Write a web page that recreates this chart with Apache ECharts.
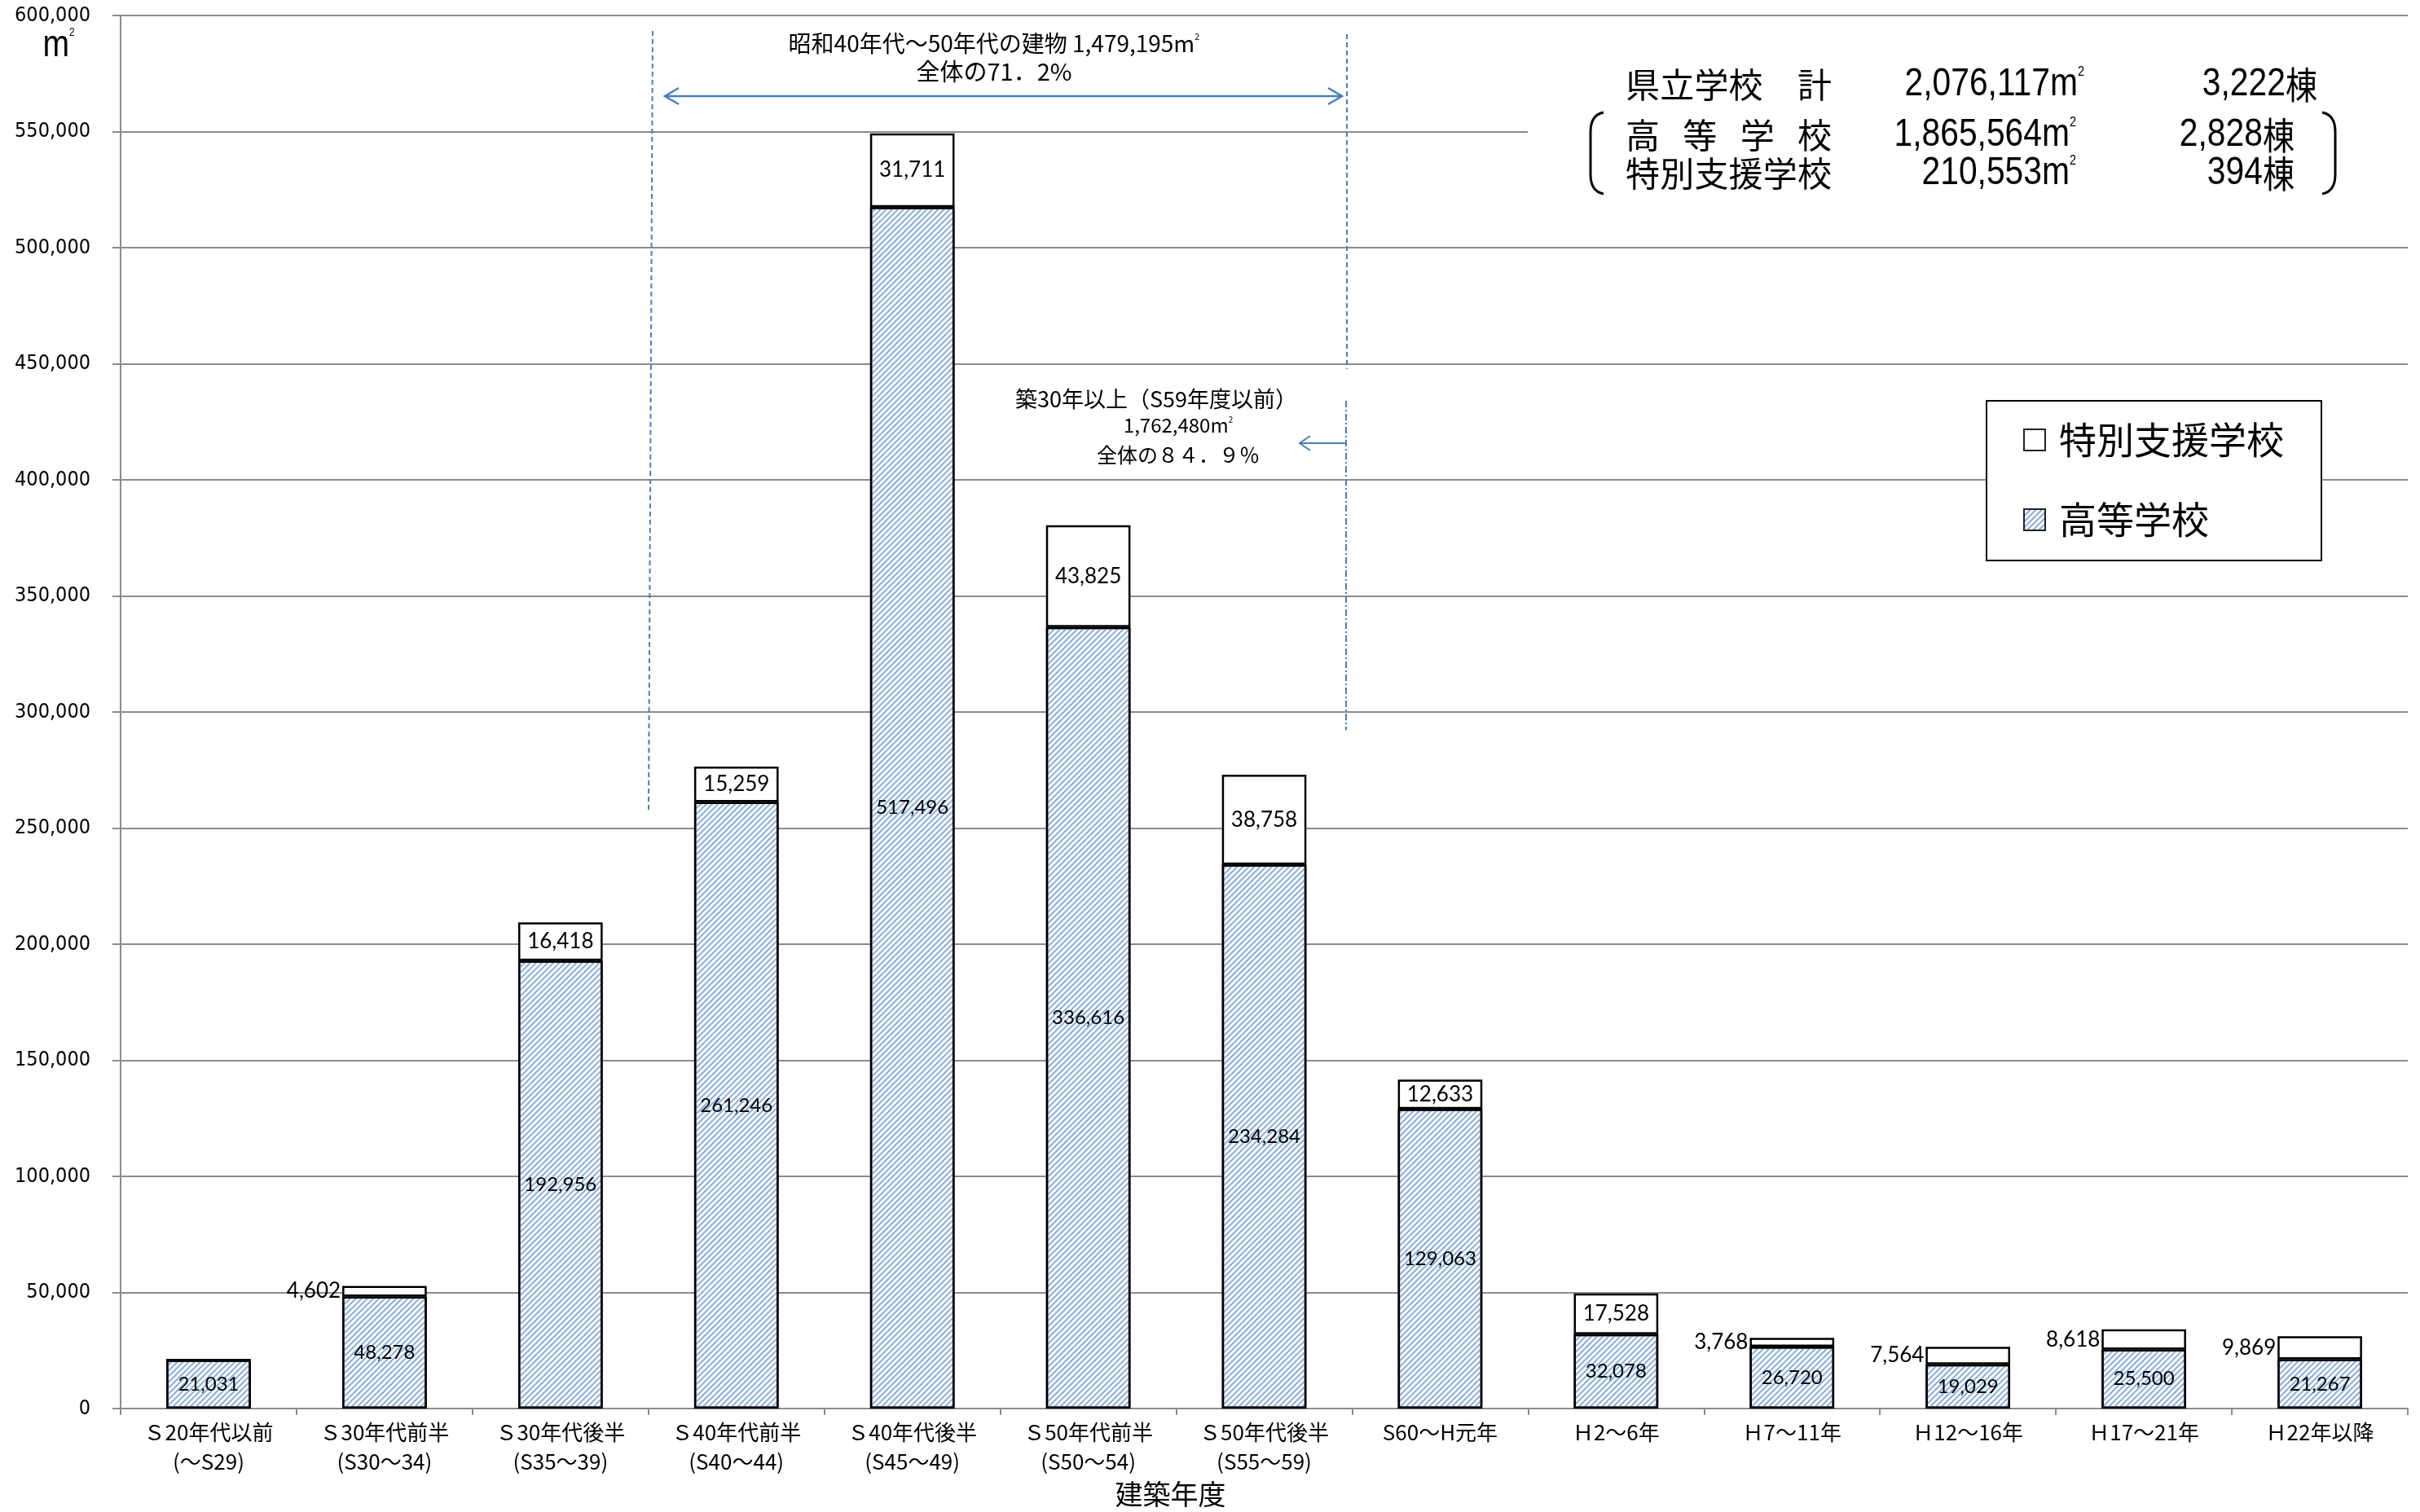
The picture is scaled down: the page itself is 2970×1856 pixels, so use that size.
<!DOCTYPE html>
<html>
<head>
<meta charset="utf-8">
<title>県立学校 建築年度別 延床面積</title>
<script src="https://cdn.jsdelivr.net/npm/echarts@6/dist/echarts.min.js"></script>
<style>
  html, body { margin: 0; padding: 0; background: #fff; }
  #chart { width: 2970px; height: 1856px; }
</style>
</head>
<body>
<div id="chart"></div>
<script>
// 建築年度の区分
const categories = [
  'Ｓ20年代以前\n(～S29)', 'Ｓ30年代前半\n(S30～34)', 'Ｓ30年代後半\n(S35～39)',
  'Ｓ40年代前半\n(S40～44)', 'Ｓ40年代後半\n(S45～49)', 'Ｓ50年代前半\n(S50～54)',
  'Ｓ50年代後半\n(S55～59)', 'S60～H元年', 'Ｈ2～6年', 'Ｈ7～11年',
  'Ｈ12～16年', 'Ｈ17～21年', 'Ｈ22年以降'
];
// 延床面積（㎡）
const highSchool = [21031, 48278, 192956, 261246, 517496, 336616, 234284, 129063, 32078, 26720, 19029, 25500, 21267];
const specialSupport = [0, 4602, 16418, 15259, 31711, 43825, 38758, 12633, 17528, 3768, 7564, 8618, 9869];
const seriesNames = ['高等学校', '特別支援学校'];
// 縦軸の目盛
const yMin = 0, yMax = 600000, yInterval = 50000;
// 集計表
const summaryNames = ['県立学校　計', '高等学校', '特別支援学校'];
const summaryArea = ['2,076,117', '1,865,564', '210,553'];
const summaryCount = ['3,222棟', '2,828棟', '394棟'];
// 注記
const noteTop = ['昭和40年代～50年代の建物 1,479,195', '全体の71．2%'];
const noteAge = ['築30年以上（S59年度以前）', '1,762,480', '全体の８４．９％'];

const fmt = v => v.toLocaleString('en-US');
const JP = '"Noto Sans CJK JP", "Noto Sans", sans-serif';
const NUM = '"Lato", "Open Sans", sans-serif';
const NARROW = '"Liberation Sans", Arial, sans-serif';
const BLUE = '#4a7ebb';

const chart = echarts.init(document.getElementById('chart'));

// 集計表の文字（見出しは均等割り付け）
const summaryEls = [];
const rowY = [104, 166, 213];
const nameLeft = 1995, nameWidth = 253, nameSize = 42;
summaryNames.forEach((name, r) => {
  const chars = Array.from(name);
  const step = chars.length > 1 ? (nameWidth - nameSize) / (chars.length - 1) : 0;
  chars.forEach((ch, i) => {
    summaryEls.push({
      type: 'text', z: 20, x: nameLeft + i * step, y: rowY[r],
      style: { text: ch, fontSize: nameSize, fontFamily: JP, fill: '#000',
               align: 'left', verticalAlign: 'middle', textAlign: 'left', textVerticalAlign: 'middle' }
    });
  });
});
const areaRight = [2558, 2548, 2548];
const countRight = [2844, 2816, 2816];
summaryArea.forEach((a, r) => {
  summaryEls.push({
    type: 'text', z: 20, x: areaRight[r], y: rowY[r], scaleX: 0.85,
    style: {
      text: '{n|' + a + '}{m|m}{s|2}', align: 'right', verticalAlign: 'middle',
      textAlign: 'right', textVerticalAlign: 'middle',
      rich: {
        n: { fontSize: 48, fontFamily: NARROW, fill: '#000' },
        m: { fontSize: 48, fontFamily: NARROW, fill: '#000' },
        s: { fontSize: 17, fontFamily: NARROW, fill: '#000', verticalAlign: 'top' }
      }
    }
  });
  summaryEls.push({
    type: 'text', z: 20, x: countRight[r], y: rowY[r], scaleX: 0.85,
    style: {
      text: '{n|' + summaryCount[r].replace('棟', '') + '}{k|棟}', align: 'right', verticalAlign: 'middle',
      textAlign: 'right', textVerticalAlign: 'middle',
      rich: {
        n: { fontSize: 48, fontFamily: NARROW, fill: '#000' },
        k: { fontSize: 46, fontFamily: JP, fill: '#000' }
      }
    }
  });
});

// 丸括弧（上下の曲線と縦線）
function bracket(x, inner, top, bottom) {
  return [
    { type: 'bezierCurve', z: 20, shape: { x1: inner, y1: top, cpx1: x, cpy1: top + 3, x2: x, y2: top + 24 }, style: { fill: null, stroke: '#000', lineWidth: 3 } },
    { type: 'line', z: 20, shape: { x1: x, y1: top + 24, x2: x, y2: bottom - 24 }, style: { stroke: '#000', lineWidth: 3 } },
    { type: 'bezierCurve', z: 20, shape: { x1: x, y1: bottom - 24, cpx1: x, cpy1: bottom - 3, x2: inner, y2: bottom }, style: { fill: null, stroke: '#000', lineWidth: 3 } }
  ];
}

const option = {
  backgroundColor: '#fff',
  animation: false,
  grid: { left: 148, right: 15, top: 19, bottom: 102, containLabel: false },
  legend: {
    data: [seriesNames[1], seriesNames[0]],
    orient: 'vertical',
    left: 2438, top: 492,
    padding: [25, 46, 27, 45],
    itemWidth: 26, itemHeight: 26, itemGap: 52,
    icon: 'rect',
    backgroundColor: '#fff',
    borderColor: '#000', borderWidth: 2,
    selectedMode: false,
    itemStyle: { borderColor: '#222', borderWidth: 2 },
    textStyle: { fontSize: 46, fontFamily: JP, color: '#000', padding: [0, 0, 0, 12] },
    z: 10
  },
  xAxis: {
    type: 'category',
    data: categories,
    name: '建築年度',
    nameLocation: 'middle',
    nameGap: 80,
    nameTextStyle: { fontSize: 34, fontFamily: JP, color: '#000', padding: [0, 230, 0, 0] },
    axisLine: { show: true, lineStyle: { color: '#8c8c8c', width: 2 } },
    axisTick: { show: true, alignWithLabel: false, length: 8, lineStyle: { color: '#8c8c8c', width: 2 } },
    axisLabel: { fontSize: 26, fontFamily: JP, color: '#000', lineHeight: 36, margin: 11, interval: 0 },
    splitLine: { show: false }
  },
  yAxis: {
    type: 'value',
    min: yMin, max: yMax, interval: yInterval,
    axisLine: { show: true, lineStyle: { color: '#8c8c8c', width: 2 } },
    axisTick: { show: true, length: 10, lineStyle: { color: '#8c8c8c', width: 2 } },
    axisLabel: { fontSize: 25, fontFamily: '"DejaVu Sans Condensed", "DejaVu Sans", sans-serif', color: '#000', margin: 37, formatter: v => fmt(v) },
    splitLine: { show: true, lineStyle: { color: '#8c8c8c', width: 2 } }
  },
  series: [
    {
      name: seriesNames[0],
      type: 'bar',
      stack: 'total',
      barWidth: '48%',
      data: highSchool,
      itemStyle: {
        color: '#fff', borderColor: '#000', borderWidth: 2.5,
        decal: { symbol: 'rect', symbolSize: 1, color: '#88acdf', dashArrayX: [1, 0], dashArrayY: [2, 3], rotation: -Math.PI / 4 }
      },
      label: { show: true, position: 'inside', fontSize: 24, fontFamily: NUM, color: '#000', formatter: p => fmt(p.value) },
      z: 2
    },
    {
      name: seriesNames[1],
      type: 'bar',
      stack: 'total',
      barWidth: '48%',
      data: specialSupport.map(v => ({
        value: v,
        label: v === 0 ? { show: false } : (v < 10000 ? { position: 'left', distance: 2 } : { position: 'inside' })
      })),
      itemStyle: { color: '#fff', borderColor: '#000', borderWidth: 2.5 },
      label: { show: true, fontSize: 26, fontFamily: NUM, color: '#000', formatter: p => fmt(p.value) },
      z: 2
    }
  ],
  graphic: {
    elements: [
      // 集計表の背景
      { type: 'rect', z: 1, shape: { x: 1875, y: 40, width: 1080, height: 250 }, style: { fill: '#fff' } },
      ...bracket(1952, 1968, 138, 238),
      ...bracket(2866, 2850, 138, 238),
      ...summaryEls,
      // 縦軸の単位
      { type: 'text', z: 20, x: 72, y: 56, scaleX: 0.85,
        style: { text: '{m|m}{s|2}', align: 'center', verticalAlign: 'middle', textAlign: 'center', textVerticalAlign: 'middle',
          rich: { m: { fontSize: 46, fontFamily: NARROW, fill: '#000' }, s: { fontSize: 14, fontFamily: NARROW, fill: '#000', verticalAlign: 'top' } } } },
      // 昭和40年代～50年代の範囲
      { type: 'line', z: 20, shape: { x1: 801, y1: 38, x2: 796, y2: 994 }, style: { stroke: BLUE, lineWidth: 2, lineDash: [6, 4] } },
      { type: 'line', z: 20, shape: { x1: 1653, y1: 42, x2: 1653, y2: 453 }, style: { stroke: BLUE, lineWidth: 2, lineDash: [6, 4] } },
      { type: 'line', z: 20, shape: { x1: 1652, y1: 492, x2: 1652, y2: 896 }, style: { stroke: BLUE, lineWidth: 2, lineDash: [8, 3, 2, 3] } },
      { type: 'line', z: 20, shape: { x1: 816, y1: 118, x2: 1647, y2: 118 }, style: { stroke: BLUE, lineWidth: 2.5 } },
      { type: 'polyline', z: 20, shape: { points: [[833, 108], [816, 118], [833, 128]] }, style: { fill: null, stroke: BLUE, lineWidth: 2.5 } },
      { type: 'polyline', z: 20, shape: { points: [[1630, 108], [1647, 118], [1630, 128]] }, style: { fill: null, stroke: BLUE, lineWidth: 2.5 } },
      { type: 'text', z: 20, x: 1220, y: 53,
        style: { text: '{t|' + noteTop[0] + '}{m|m}{s|2}', align: 'center', verticalAlign: 'middle', textAlign: 'center', textVerticalAlign: 'middle',
          rich: { t: { fontSize: 28, fontFamily: JP, fill: '#000' }, m: { fontSize: 28, fontFamily: JP, fill: '#000' }, s: { fontSize: 11, fontFamily: JP, fill: '#000', verticalAlign: 'top' } } } },
      { type: 'text', z: 20, x: 1220, y: 88,
        style: { text: noteTop[1], fontSize: 29, fontFamily: JP, fill: '#000', align: 'center', verticalAlign: 'middle', textAlign: 'center', textVerticalAlign: 'middle' } },
      // 築30年以上
      { type: 'line', z: 20, shape: { x1: 1651, y1: 544, x2: 1595, y2: 544 }, style: { stroke: BLUE, lineWidth: 2 } },
      { type: 'polyline', z: 20, shape: { points: [[1608, 535], [1595, 544], [1608, 553]] }, style: { fill: null, stroke: BLUE, lineWidth: 2 } },
      { type: 'text', z: 20, x: 1419, y: 490,
        style: { text: noteAge[0], fontSize: 27, fontFamily: JP, fill: '#000', align: 'center', verticalAlign: 'middle', textAlign: 'center', textVerticalAlign: 'middle' } },
      { type: 'text', z: 20, x: 1446, y: 522,
        style: { text: '{t|' + noteAge[1] + '}{m|m}{s|2}', align: 'center', verticalAlign: 'middle', textAlign: 'center', textVerticalAlign: 'middle',
          rich: { t: { fontSize: 24, fontFamily: JP, fill: '#000' }, m: { fontSize: 24, fontFamily: JP, fill: '#000' }, s: { fontSize: 10, fontFamily: JP, fill: '#000', verticalAlign: 'top' } } } },
      { type: 'text', z: 20, x: 1446, y: 558,
        style: { text: noteAge[2], fontSize: 25, fontFamily: JP, fill: '#000', align: 'center', verticalAlign: 'middle', textAlign: 'center', textVerticalAlign: 'middle' } }
    ]
  }
};

chart.setOption(option);
</script>
</body>
</html>
